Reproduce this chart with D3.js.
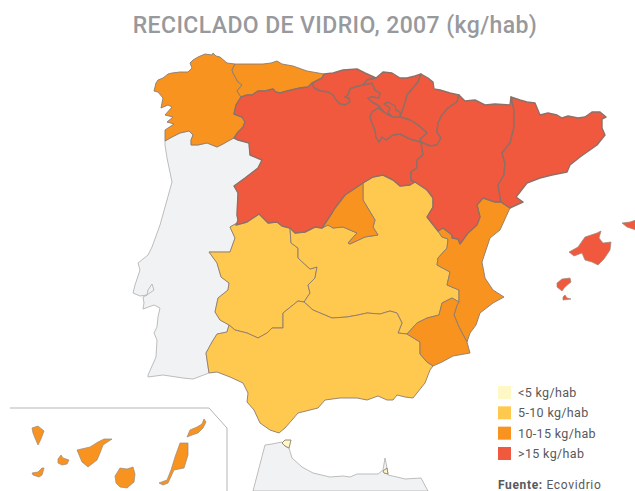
<!DOCTYPE html>
<html lang="es">
	<head>
		<meta charset="utf-8">
		<title>Reciclado de vidrio, 2007</title>
		<style>
		html, body { margin: 0; padding: 0; background: #fff; overflow: hidden; }
		text { font-family: Roboto, sans-serif; }
		.region { stroke-linejoin: round; }
		</style>
	</head>
	<body>
		<svg id="map" width="635" height="491"></svg>
		<script src="https://d3js.org/d3.v7.min.js"></script>
		<script>

		var titleText = "RECICLADO DE VIDRIO, 2007 (kg/hab)";
		var legendLabels = ["<5 kg/hab", "5-10 kg/hab", "10-15 kg/hab", ">15 kg/hab"];
		var legendColors = ["#fff8c4", "#ffc94f", "#f7931e", "#f1593f"];

		// borders, each one shared by the two regions on its sides
		var galiciaCoast = [[235,64],[227,63],[220,57],[216,56],[213,53],[212,55],[205,54],[198,57],[193,60],[190,63],[192,68],[188,72],[180,72],[172,73],[168,74],[163,78],[158,80],[156,83],[154,91],[158,92],[163,98],[161,108],[168,105],[172,107],[165,115],[173,117],[167,122],[174,124],[165,130],[165,141]];
		var galiciaPortugal = [[165,141],[172,137],[180,133],[189,131],[193,135],[191,140],[191,145],[198,145],[207,143],[212,145],[217,147],[223,144],[230,140],[234,138]];
		var galiciaCyL = [[234,138],[238,132],[243,127],[245,122],[242,117],[234,114],[236,105],[241,97]];
		var galiciaAsturias = [[241,97],[237,91],[242,85],[238,82],[233,73],[232,70],[235,64]];
		var asturiasCoast = [[235,64],[247,64],[263,64],[271,63],[277,61],[282,64],[293,66],[307,71],[324,74]];
		var asturiasCyL = [[241,97],[247,95],[252,95],[258,91],[265,91],[273,89],[276,92],[280,93],[287,91],[300,88],[308,87],[312,83]];
		var asturiasCantabria = [[324,74],[322,78],[312,83]];
		var cantabriaCoast = [[324,74],[333,73],[343,70],[357,69],[365,73],[376,78]];
		var cantabriaBasque = [[376,78],[367,80],[363,85]];
		var cantabriaCyL = [[312,83],[314,88],[320,91],[328,92],[333,95],[336,100],[340,104],[345,105],[350,102],[349,98],[345,97],[348,95],[350,89],[355,87],[363,85]];
		var basqueCoast = [[376,78],[383,72],[392,73],[400,78],[407,78],[415,76],[421,74]];
		var basqueCyL = [[363,85],[372,83],[375,90],[380,93],[379,98],[372,97],[368,98],[372,102],[378,105],[385,113]];
		var basqueNavarra = [[421,74],[418,82],[413,88],[407,95],[405,103],[402,112],[400,117]];
		var basqueRioja = [[400,117],[390,116],[385,113]];
		var navarraCoast = [[421,74],[428,78],[433,82],[434,89],[440,90],[450,93],[459,95]];
		var navarraAragon = [[459,95],[457,102],[448,108],[442,115],[438,123],[437,132],[441,138],[437,145],[430,146],[421,142]];
		var navarraRioja = [[400,117],[410,120],[418,125],[427,133],[420,139],[421,142]];
		var riojaCyL = [[385,113],[378,108],[372,112],[370,117],[372,123],[375,130],[376,137],[379,142],[382,137],[386,140],[393,135],[400,134],[410,139],[421,142]];
		var aragonCyL = [[421,142],[423,155],[417,160],[417,168],[411,172],[411,180],[415,182]];
		var aragonCoast = [[459,95],[465,101],[475,100],[485,105],[495,104],[510,105],[511,97]];
		var aragonCatalonia = [[511,97],[514,110],[514,127],[510,143],[502,153],[505,163],[504,175],[498,185],[501,202]];
		var aragonValencia = [[501,202],[495,202],[483,198],[477,205],[480,217],[477,225],[468,233],[460,244],[458,239],[452,238],[452,235],[443,228],[438,231]];
		var cataloniaCoast = [[511,97],[520,100],[527,102],[535,103],[540,115],[548,113],[557,115],[562,118],[568,116],[578,118],[585,117],[592,112],[600,112],[606,117],[602,119],[602,128],[605,135],[597,145],[580,157],[570,165],[567,172],[552,175],[540,178],[527,183],[520,192],[516,197],[523,202],[512,207],[510,208]];
		var cataloniaValencia = [[510,208],[501,202]];
		var valenciaCoast = [[510,208],[505,219],[500,230],[490,238],[482,262],[485,278],[493,290],[504,297],[493,303],[480,313],[476,325],[470,333],[467,342]];
		var clmAragon = [[438,231],[427,217],[433,207],[433,198],[427,190],[415,182]];
		var clmValencia = [[438,231],[442,237],[448,239],[447,248],[438,258],[437,265],[450,272],[447,285],[459,290],[459,302]];
		var clmCyLEast = [[415,182],[410,185],[400,186],[393,180],[383,175],[373,177],[363,183]];
		var madridCyL = [[363,183],[357,187],[345,195],[335,208],[332,213],[322,228]];
		var madridClm = [[363,183],[363,200],[375,220],[373,227],[378,235],[365,237],[350,244],[348,243],[357,233],[343,227],[333,228],[328,225],[322,228]];
		var clmCyLWest = [[322,228],[315,227],[305,232],[295,233],[290,228]];
		var extCyL = [[290,228],[282,226],[277,222],[268,223],[259,214],[247,222],[236,225],[237,223]];
		var extClm = [[290,228],[291,243],[298,248],[298,258],[310,269],[317,267],[315,278],[308,285],[310,293],[304,302]];
		var extAnd = [[304,302],[298,301],[283,313],[283,328],[272,328],[267,333],[258,338],[247,333],[235,330],[229,325]];
		var extPortugal = [[237,223],[230,227],[235,238],[230,252],[209,252],[217,263],[221,277],[229,283],[228,290],[218,298],[215,312],[220,320],[229,325]];
		var andClm = [[304,302],[313,310],[332,318],[347,317],[358,315],[367,313],[380,314],[390,311],[397,313],[402,323],[398,333],[407,334]];
		var clmMurcia = [[459,302],[452,298],[442,303],[439,315],[427,318],[417,323],[407,334]];
		var murciaValencia = [[459,302],[457,305],[454,315],[459,327],[467,342]];
		var murciaCoast = [[467,342],[470,353],[453,356],[442,362],[433,366]];
		var murciaAnd = [[407,334],[420,342],[420,354],[427,362],[433,366]];
		var andCoast = [[433,366],[430,370],[425,383],[413,398],[405,397],[397,395],[393,400],[387,400],[378,396],[367,400],[357,398],[340,398],[325,400],[318,408],[298,413],[292,420],[285,428],[279,433],[270,430],[260,423],[254,410],[247,402],[248,393],[243,383],[230,377],[217,372],[209,373]];
		var andPortugal = [[209,373],[206,353],[212,342],[217,334],[227,332],[229,325]];
		var portugalCyL = [[237,223],[238,220],[237,215],[238,193],[234,186],[245,178],[258,168],[262,160],[250,155],[249,143],[238,140],[234,138]];
		var portugalCoast = [[165,141],[165,145],[167,158],[172,182],[167,200],[160,225],[152,247],[148,255],[138,263],[140,270],[135,285],[133,293],[140,296],[147,295],[154,290],[152,284],[148,290],[147,295],[143,297],[144,303],[143,309],[154,305],[160,308],[158,317],[157,327],[154,333],[157,340],[156,357],[148,375],[148,377],[163,375],[183,378],[193,379],[209,373]];

		// smaller shapes that stand alone
		var trevino = [[384,104],[388,102],[395,106],[396,110],[400,112],[400,117],[393,117],[388,113],[390,108]];
		var mallorca = [[569,252],[578,247],[585,237],[591,235],[597,233],[601,231],[599,238],[603,243],[611,242],[610,250],[604,259],[598,265],[592,262],[585,260],[582,253],[574,256]];
		var menorca = [[622,223],[630,222],[636,220],[636,230],[627,227]];
		var ibiza = [[557,287],[557,283],[562,279],[570,278],[571,282],[565,287],[562,291]];
		var formentera = [[563,297],[565,295],[567,298],[571,299],[563,300]];
		var elHierro = [[32,473],[38,472],[42,468],[44,468],[42,475],[39,477],[33,475]];
		var laGomera = [[58,459],[61,455],[63,458],[69,460],[67,464],[62,465],[58,463]];
		var laPalma = [[32,428],[38,426],[44,431],[41,439],[38,445],[35,438],[33,433]];
		var tenerife = [[77,450],[90,447],[98,442],[104,439],[112,439],[103,445],[100,453],[97,460],[88,467],[82,462]];
		var granCanaria = [[120,468],[127,469],[133,467],[135,474],[134,482],[127,488],[120,487],[116,483],[115,476]];
		var fuerteventura = [[159,483],[167,480],[171,470],[175,457],[180,443],[188,443],[188,455],[184,468],[174,470],[168,483],[163,485]];
		var lanzarote = [[187,437],[190,430],[197,427],[202,424],[204,419],[206,422],[203,428],[198,433],[192,435]];
		var marruecos = [[253,491],[265,445],[272,444],[282,442],[285,446],[289,448],[292,458],[302,467],[313,473],[330,477],[343,476],[350,477],[357,474],[378,474],[383,470],[385,458],[387,468],[388,475],[397,477],[405,479],[421,478],[428,491]];
		var ceuta = [[282,443],[285,440],[291,440],[289,448],[285,446]];
		var melilla = [[383,471],[387,468],[388,474],[384,473]];
		var canariasFrame = [[10,408],[209,408],[227,428],[227,491]];

		function rev(arc) { return arc.slice().reverse(); }
		function ring() { return [].concat.apply([], arguments); }

		// class is an index into legendLabels, -1 is land outside the data
		var portugal = ring(rev(galiciaPortugal), portugalCoast, andPortugal, rev(extPortugal), portugalCyL);
		var regionNames = ["Portugal", "Marruecos", "Ceuta", "Melilla",
			"Extremadura", "Castilla-La Mancha", "Andalucía",
			"Madrid", "Comunidad Valenciana", "Murcia", "Galicia", "Asturias",
			"Cantabria", "Castilla y León", "País Vasco", "Navarra", "La Rioja", "Aragón", "Cataluña", "Treviño"];
		var regionClasses = [-1, -1, 0, 0,
			1, 1, 1,
			2, 2, 2, 2, 2,
			3, 3, 3, 3, 3, 3, 3, 3];
		var regionRings = [portugal, marruecos, ceuta, melilla,
			ring(extClm, extAnd, rev(extPortugal), rev(extCyL)),
			ring(clmCyLEast, madridClm, clmCyLWest, extClm, andClm, rev(clmMurcia), rev(clmValencia), clmAragon),
			ring(andClm, murciaAnd, andCoast, andPortugal, rev(extAnd)),
			ring(madridCyL, rev(madridClm)),
			ring(aragonValencia, clmValencia, murciaValencia, rev(valenciaCoast), rev(cataloniaValencia)),
			ring(murciaValencia, murciaCoast, rev(murciaAnd), rev(clmMurcia)),
			ring(galiciaCoast, galiciaPortugal, galiciaCyL, galiciaAsturias),
			ring(asturiasCoast, asturiasCantabria, rev(asturiasCyL), galiciaAsturias),
			ring(cantabriaCoast, cantabriaBasque, rev(cantabriaCyL), rev(asturiasCantabria)),
			ring(asturiasCyL, cantabriaCyL, basqueCyL, riojaCyL, aragonCyL, clmCyLEast, madridCyL, clmCyLWest, extCyL, portugalCyL, galiciaCyL),
			ring(basqueCoast, basqueNavarra, basqueRioja, rev(basqueCyL), rev(cantabriaBasque)),
			ring(navarraCoast, navarraAragon, rev(navarraRioja), rev(basqueNavarra)),
			ring(rev(basqueRioja), navarraRioja, rev(riojaCyL)),
			ring(aragonCoast, aragonCatalonia, aragonValencia, clmAragon, rev(aragonCyL), rev(navarraAragon)),
			ring(cataloniaCoast, cataloniaValencia, rev(aragonCatalonia)),
			trevino];

		var islandNames = ["Mallorca", "Menorca", "Ibiza", "Formentera",
			"El Hierro", "La Gomera", "La Palma", "Tenerife", "Gran Canaria", "Fuerteventura", "Lanzarote"];
		var islandClasses = [3, 3, 3, 3, 2, 2, 2, 2, 2, 2, 2];
		var islandRings = [mallorca, menorca, ibiza, formentera,
			elHierro, laGomera, laPalma, tenerife, granCanaria, fuerteventura, lanzarote];

		var svg = d3.select("#map");

		var color = d3.scaleOrdinal().domain([-1, 0, 1, 2, 3]).range(["#f1f2f4"].concat(legendColors));
		var path = d3.geoPath(d3.geoIdentity());
		var islandLine = d3.line().curve(d3.curveLinearClosed);

		var regions = regionNames.map(function(name, i) {
			var r = regionRings[i];
			return {
				type: "Feature",
				properties: { name: name, cls: regionClasses[i] },
				geometry: { type: "Polygon", coordinates: [r.concat([r[0]])] }
			};
		});

		svg.append("text")
			.attr("x", 335)
			.attr("y", 33)
			.attr("text-anchor", "middle")
			.attr("fill", "#98999c")
			.attr("font-size", 23)
			.attr("font-weight", 500)
			.attr("letter-spacing", 0.4)
			.text(titleText);

		svg.append("path")
			.datum({ type: "LineString", coordinates: canariasFrame })
			.attr("d", path)
			.attr("fill", "none")
			.attr("stroke", "#b4b5b7")
			.attr("stroke-width", 1);

		svg.append("g")
			.selectAll("path")
			.data(regions)
			.enter().append("path")
			.attr("class", "region")
			.attr("d", path)
			.attr("fill", function(d) { return color(d.properties.cls); })
			.attr("stroke", function(d) { return d.properties.cls < 0 ? "#b5b5b5" : (d.properties.cls == 3 ? "#8f6f66" : "#8c7c70"); })
			.attr("stroke-width", function(d) { return d.properties.cls == 3 ? 1.4 : 0.9; });

		svg.append("g")
			.selectAll("path")
			.data(islandRings)
			.enter().append("path")
			.attr("class", "region")
			.attr("d", islandLine)
			.attr("fill", function(d, i) { return color(islandClasses[i]); })
			.attr("stroke", "#9c8a7c")
			.attr("stroke-width", 0.7);

		var legendScale = d3.scalePoint().domain(legendLabels).range([386, 447]);

		var legend = svg.append("g")
			.selectAll("g")
			.data(legendLabels)
			.enter().append("g")
			.attr("transform", function(d) { return "translate(498," + legendScale(d) + ")"; });

		legend.append("rect")
			.attr("width", 13)
			.attr("height", 13)
			.attr("fill", function(d, i) { return legendColors[i]; });

		legend.append("text")
			.attr("x", 20)
			.attr("y", 11)
			.attr("fill", "#58595b")
			.attr("font-size", 12.5)
			.attr("letter-spacing", 0.35)
			.text(function(d) { return d; });

		var source = svg.append("text")
			.attr("x", 498)
			.attr("y", 489)
			.attr("fill", "#58595b")
			.attr("font-size", 12)
			.attr("letter-spacing", 0.65)
		source.append("tspan").attr("font-weight", 700).text("Fuente:");
		source.append("tspan").text(" Ecovidrio");

		</script>
	</body>
</html>
